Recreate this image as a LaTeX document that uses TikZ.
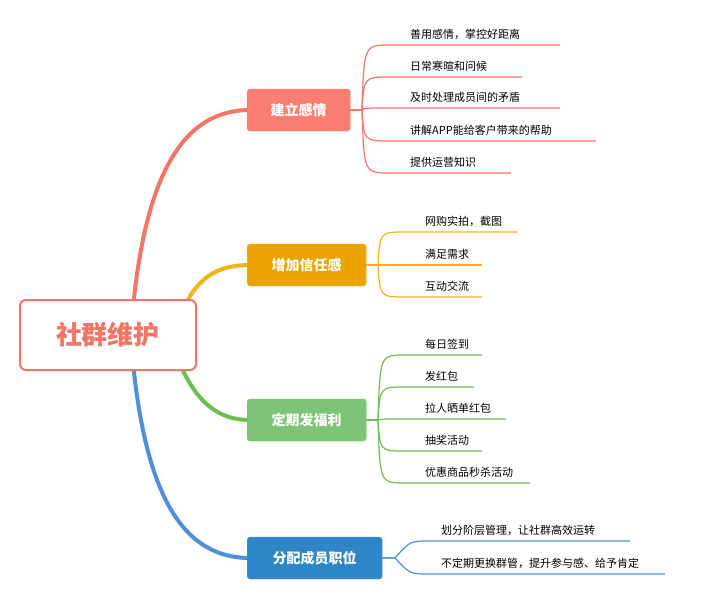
\documentclass[tikz,border=0pt]{standalone}
\usepackage{fontspec}
\setmainfont{Noto Sans CJK SC}
\usetikzlibrary{positioning}
\definecolor{redline}{HTML}{F47566}
\definecolor{redbox}{HTML}{FA7E72}
\definecolor{yelline}{HTML}{F5B31B}
\definecolor{yelbox}{HTML}{EBA300}
\definecolor{grnline}{HTML}{6DBE50}
\definecolor{grnbox}{HTML}{7DC476}
\definecolor{bluline}{HTML}{4F8FD8}
\definecolor{blubox}{HTML}{2E86C6}
\tikzset{
  topicbox/.style={rounded corners=3pt, text=white, font=\bfseries\fontsize{14}{16}\selectfont,
    inner xsep=0pt, minimum height=42pt, anchor=west},
  leaf/.style={font=\fontsize{11}{13}\selectfont, anchor=south west, inner xsep=0pt, inner ysep=5pt},
  twig/.style={line width=1.2pt}
}
\begin{document}
\begin{tikzpicture}[x=1pt,y=-1pt]
  \useasboundingbox (0,0) rectangle (710,606);
  % Branches
  \draw[redline, line width=4pt] (132,318) .. controls (145,170) and (185,110) .. (250,110);
  \draw[yelline, line width=4pt] (180,318) .. controls (195,275) and (220,265) .. (250,265);
  \draw[grnline, line width=4pt] (175,352) .. controls (195,405) and (220,420) .. (250,420);
  \draw[bluline, line width=4pt] (132,352) .. controls (145,500) and (185,558) .. (250,558);
  % Root
  \node[draw=redline, line width=2pt, fill=white, rounded corners=6pt, minimum width=176pt, minimum height=70pt,
        text=redline, font=\bfseries\fontsize{26}{30}\selectfont] (root) at (108,335) {社群维护};
  % Main topics
  \node[topicbox, fill=redbox, draw=redline, minimum width=103pt] (t1) at (247,110) {建立感情};
  \node[topicbox, fill=yelbox, draw=yelline, minimum width=119pt] (t2) at (247,265) {增加信任感};
  \node[topicbox, fill=grnbox, draw=grnline, minimum width=119pt] (t3) at (247,420) {定期发福利};
  \node[topicbox, fill=blubox, draw=bluline, minimum width=135pt] (t4) at (247,558) {分配成员职位};
  % Leaves
  \foreach \txt/\uy/\ue [count=\i] in {善用感情，掌控好距离/45/560, 日常寒暄和问候/77/522,
      及时处理成员间的矛盾/108/560, 讲解APP能给客户带来的帮助/141/596, 提供运营知识/173/511} {
    \node[leaf] (a\i) at (410,\uy) {\txt};
    \draw[redline, twig] (t1.east) -- (362,110) .. controls (364,\uy) .. (390,\uy) -- (\ue,\uy);
  }
  \foreach \txt/\uy/\ue [count=\i] in {网购实拍，截图/232/518, 满足需求/265/482, 互动交流/297/482} {
    \node[leaf] (b\i) at (425,\uy) {\txt};
    \draw[yelline, twig] (t2.east) -- (378,265) .. controls (380,\uy) .. (405,\uy) -- (\ue,\uy);
  }
  \foreach \txt/\uy/\ue [count=\i] in {每日签到/355/482, 发红包/387/474, 拉人晒单红包/419/506,
      抽奖活动/451/482, 优惠商品秒杀活动/483/530} {
    \node[leaf] (c\i) at (425,\uy) {\txt};
    \draw[grnline, twig] (t3.east) -- (378,420) .. controls (380,\uy) .. (405,\uy) -- (\ue,\uy);
  }
  \foreach \txt/\uy/\ue [count=\i] in {划分阶层管理，让社群高效运转/541/630, 不定期更换群管，提升参与感、给予肯定/574/665} {
    \node[leaf] (d\i) at (441,\uy) {\txt};
    \draw[bluline, twig] (t4.east) -- (395,558) .. controls (410,\uy) .. (430,\uy) -- (\ue,\uy);
  }
\end{tikzpicture}
\end{document}
